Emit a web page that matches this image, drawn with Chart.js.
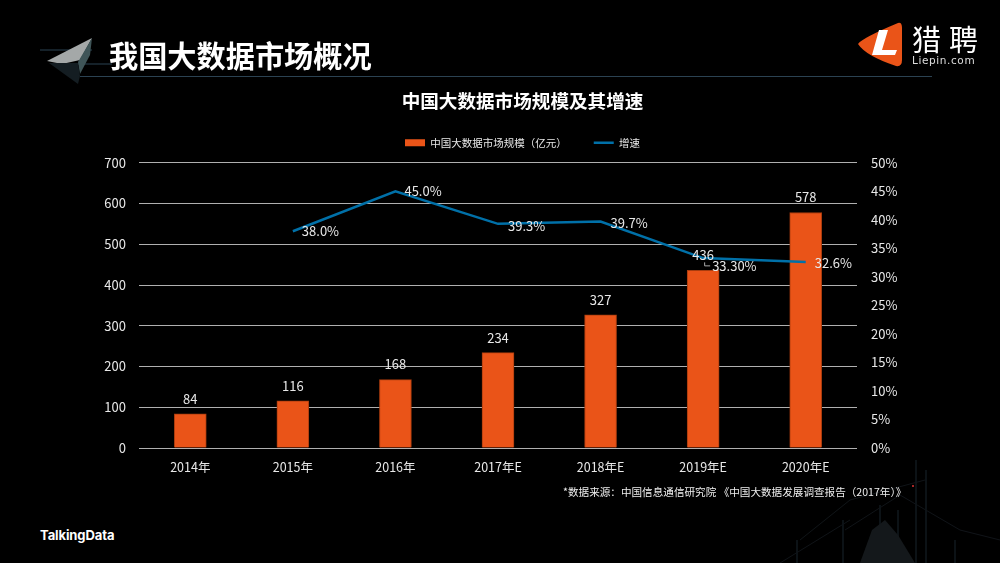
<!DOCTYPE html>
<html>
<head>
<meta charset="utf-8">
<script src="https://cdn.jsdelivr.net/npm/chart.js@4/dist/chart.umd.min.js"></script>
<style>
html, body { margin: 0; background: #000; }
#slide { position: relative; width: 1000px; height: 563px; overflow: hidden; background: #000; font-family: "Noto Sans CJK SC", sans-serif; color: #fff; }
#slide div { position: absolute; white-space: nowrap; }
#decor { position: absolute; left: 0; top: 0; }
#usageChart { position: absolute; left: 0; top: 0; }
#heading { left: 109px; top: 33px; font-size: 29.2px; line-height: 42px; font-weight: 700; }
#source { left: 563px; top: 484px; font-size: 10.6px; line-height: 16px; color: #eee; }
#brand { left: 40px; top: 527px; font-family: Inter, sans-serif; font-size: 13px; line-height: 16px; font-weight: 700; letter-spacing: -0.1px; }
#logoCn { left: 912px; top: 21px; font-size: 29px; line-height: 34px; font-weight: 400; letter-spacing: 8px; }
#logoEn { left: 912px; top: 53px; font-family: "DejaVu Sans", sans-serif; font-size: 10.5px; line-height: 14px; letter-spacing: 0.6px; color: #ddd; }
</style>
</head>
<body>
<div id="slide">
  <svg id="decor" width="1000" height="563">
    <line x1="40" y1="50" x2="92" y2="50" stroke="#2b4252"/>
    <line x1="60" y1="64" x2="112" y2="64" stroke="#2b4252"/>
    <line x1="80" y1="76.500" x2="932" y2="76.500" stroke="#2b4252"/>
    <polygon points="47,61 92,38 80,60 62,64" fill="#a4a8a8"/>
    <polygon points="92,38 90,55 80,74 78,62" fill="#3f5558"/>
    <polygon points="49,63 78,63 80,76 78,84" fill="#141d22"/>
    <path d="M858,44 Q862,38 898,23 Q902,22 902,28 L902,60 Q902,67 896,66 Q866,56 858,44 Z" fill="#ea5418"/>
    <path d="M879,30 L888,30 L882,50 L897,50 L895,55 L872,55 Z" fill="#fff"/>
    <g stroke="#18242c" stroke-width="1" fill="none">
      <line x1="797" y1="540" x2="797" y2="563"/>
      <line x1="843" y1="520" x2="843" y2="563"/>
      <line x1="880" y1="505" x2="880" y2="563"/>
      <line x1="898" y1="510" x2="898" y2="563"/>
      <line x1="916" y1="460" x2="916" y2="563"/>
      <line x1="926" y1="470" x2="926" y2="563"/>
      <line x1="955" y1="540" x2="955" y2="563"/>
      <path d="M800,540 L850,500 L925,480 M845,530 L900,495 L960,530 L1000,540 M780,563 L850,520" stroke="#101418"/>
    </g>
    <polygon points="860,563 872,530 885,520 898,535 915,563" fill="#14181b"/>
    <circle cx="913" cy="486" r="1" fill="#d33"/>
  </svg>
  <canvas id="usageChart" width="1000" height="500"></canvas>
  <div id="heading">我国大数据市场概况</div>
  <div id="logoCn">猎聘</div>
  <div id="logoEn">Liepin.com</div>
  <div id="source">*数据来源：中国信息通信研究院 《中国大数据发展调查报告（2017年）》</div>
  <div id="brand">TalkingData</div>
</div>
<script>
const categories = ['2014年', '2015年', '2016年', '2017年E', '2018年E', '2019年E', '2020年E'];
const marketSize = [84, 116, 168, 234, 327, 436, 578];
const growthRate = [null, 38.0, 45.0, 39.3, 39.7, 33.3, 32.6];
const growthLabels = ['', '38.0%', '45.0%', '39.3%', '39.7%', '33.30%', '32.6%'];
const sizeTicks = [0, 100, 200, 300, 400, 500, 600, 700];
const rateTicks = [0, 5, 10, 15, 20, 25, 30, 35, 40, 45, 50];

const FONT = '"Noto Sans CJK SC", sans-serif';
const ORANGE = '#ea5418';
const BLUE = '#0070a8';
const TEXT = '#e8e8e8';

// label nudges for the growth line, the source slide places them by hand
const growthNudge = [[0, 0], [9, 0], [9, 0], [10, 2], [10, 2], [9, 8], [9, 1]];

const valueLabels = {
    id: 'valueLabels',
    beforeInit(chart) {
        // extra room under the legend
        const fit = chart.legend.fit;
        chart.legend.fit = function() {
            fit.call(this);
            this.height += 4.7;
        };
    },
    afterDatasetsDraw(chart) {
        const c = chart.ctx;
        c.save();
        c.font = '13px ' + FONT;
        c.fillStyle = TEXT;
        c.textBaseline = 'middle';

        c.textAlign = 'center';
        chart.getDatasetMeta(0).data.forEach((bar, i) => {
            c.fillText(String(marketSize[i]), bar.x, bar.y - 15);
        });

        c.textAlign = 'left';
        chart.getDatasetMeta(1).data.forEach((pt, i) => {
            if (growthRate[i] === null) return;
            c.fillText(growthLabels[i], pt.x + growthNudge[i][0], pt.y + growthNudge[i][1]);
        });

        // small leader line between 436 and its moved label
        const bar = chart.getDatasetMeta(0).data[5];
        c.strokeStyle = '#aaa';
        c.lineWidth = 1;
        c.beginPath();
        c.moveTo(bar.x + 1.5, bar.y - 8);
        c.lineTo(bar.x + 1.5, bar.y - 4.5);
        c.lineTo(bar.x + 7, bar.y - 4.5);
        c.stroke();
        c.restore();
    }
};

const ctx = document.getElementById('usageChart').getContext('2d');
const usageChart = new Chart(ctx, {
    data: {
        labels: categories,
        datasets: [{
            type: 'bar',
            label: '中国大数据市场规模（亿元）',
            data: marketSize,
            yAxisID: 'y',
            backgroundColor: ORANGE,
            borderColor: '#a83c0e',
            borderWidth: 1,
            barThickness: 32,
            order: 2
        }, {
            type: 'line',
            label: '增速',
            data: growthRate,
            yAxisID: 'y1',
            borderColor: BLUE,
            backgroundColor: BLUE,
            borderWidth: 2.5,
            pointRadius: 0,
            tension: 0,
            order: 1
        }]
    },
    options: {
        responsive: false,
        animation: false,
        layout: { padding: { left: 45, top: 0, right: 0, bottom: 0 } },
        plugins: {
            title: {
                display: true,
                text: '中国大数据市场规模及其增速',
                color: '#fff',
                font: { family: FONT, size: 18.6, weight: 'bold', lineHeight: 1 },
                padding: { top: 92, bottom: 0 }
            },
            legend: {
                display: true,
                labels: {
                    color: TEXT,
                    font: { family: FONT, size: 10.5 },
                    usePointStyle: true,
                    pointStyleWidth: 20,
                    boxHeight: 7,
                    padding: 27,
                    generateLabels(chart) {
                        return chart.data.datasets.map((ds, i) => ({
                            text: ds.label,
                            fontColor: TEXT,
                            fillStyle: ds.backgroundColor,
                            strokeStyle: ds.type === 'line' ? BLUE : ORANGE,
                            lineWidth: ds.type === 'line' ? 2.5 : 0,
                            pointStyle: ds.type === 'line' ? 'line' : 'rect',
                            datasetIndex: i
                        }));
                    }
                }
            },
            tooltip: { enabled: false }
        },
        scales: {
            x: {
                grid: { display: false, drawTicks: false },
                border: { display: false },
                ticks: { color: TEXT, font: { family: FONT, size: 12.5 }, padding: 12, maxRotation: 0 },
                afterFit(scale) { scale.height = 52; }
            },
            y: {
                min: 0,
                max: 700,
                grid: { color: '#b0b0b0', lineWidth: 1, drawTicks: false },
                border: { display: false },
                afterBuildTicks(scale) { scale.ticks = sizeTicks.map(v => ({ value: v })); },
                ticks: { color: TEXT, font: { family: FONT, size: 13 }, padding: 13 },
                afterFit(scale) { scale.width = 94; }
            },
            y1: {
                position: 'right',
                min: 0,
                max: 50,
                grid: { display: false, drawTicks: false },
                border: { display: false },
                afterBuildTicks(scale) { scale.ticks = rateTicks.map(v => ({ value: v })); },
                ticks: { color: TEXT, font: { family: FONT, size: 13 }, padding: 14, callback: v => v + '%' },
                afterFit(scale) { scale.width = 143; }
            }
        }
    },
    plugins: [valueLabels]
});
</script>
</body>
</html>
